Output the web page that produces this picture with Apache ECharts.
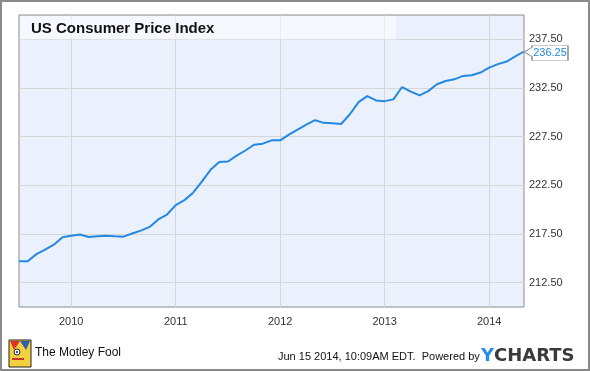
<!DOCTYPE html>
<html><head><meta charset="utf-8">
<script src="https://cdn.jsdelivr.net/npm/echarts@6/dist/echarts.min.js"></script>
<style>html,body{margin:0;padding:0;background:#fff}#c{width:590px;height:371px}</style>
</head><body><div id="c"></div>
<script>
const chartTitle = 'US Consumer Price Index';
const categories = [
  '2009-06','2009-07','2009-08','2009-09','2009-10','2009-11','2009-12',
  '2010-01','2010-02','2010-03','2010-04','2010-05','2010-06','2010-07','2010-08','2010-09','2010-10','2010-11','2010-12',
  '2011-01','2011-02','2011-03','2011-04','2011-05','2011-06','2011-07','2011-08','2011-09','2011-10','2011-11','2011-12',
  '2012-01','2012-02','2012-03','2012-04','2012-05','2012-06','2012-07','2012-08','2012-09','2012-10','2012-11','2012-12',
  '2013-01','2013-02','2013-03','2013-04','2013-05','2013-06','2013-07','2013-08','2013-09','2013-10','2013-11','2013-12',
  '2014-01','2014-02','2014-03','2014-04'
];
const cpiValues = [
  214.71, 214.70, 215.43, 215.89, 216.40, 217.16, 217.33,
  217.44, 217.19, 217.26, 217.33, 217.26, 217.23, 217.55, 217.85, 218.23, 219.00, 219.50, 220.47,
  220.98, 221.74, 222.88, 224.09, 224.90, 224.95, 225.55, 226.08, 226.67, 226.78, 227.12, 227.12,
  227.71, 228.22, 228.74, 229.19, 228.92, 228.88, 228.80, 229.80, 231.05, 231.67, 231.22, 231.15,
  231.33, 232.60, 232.12, 231.74, 232.18, 232.88, 233.22, 233.39, 233.74, 233.81, 234.09, 234.60,
  234.95, 235.22, 235.74, 236.25
];
const xTickCats = ['2009-12','2010-12','2011-12','2012-12','2013-12'];
const xTickLabels = ['2010','2011','2012','2013','2014'];
const yTicks = [212.5, 217.5, 222.5, 227.5, 232.5, 237.5];
const footerDate = 'Jun 15 2014, 10:09AM EDT.  Powered by';
const brandLeft = 'The Motley Fool';
const brandRight = ['Y', 'CHARTS'];

const FONT = '"Liberation Sans", Arial, sans-serif';
const LINE_COLOR = '#2388e4';
const GRID_COLOR = '#d6d6d6';
const chart = echarts.init(document.getElementById('c'), null, {renderer: 'canvas'});
const last = cpiValues.length - 1;
const isYTick = v => yTicks.some(t => Math.abs(t - v) < 1e-6);

chart.setOption({
  animation: false,
  backgroundColor: '#fff',
  grid: {left: 19, right: 66, top: 15, bottom: 64, show: true,
         backgroundColor: '#eaf1fc', borderColor: '#8c8c8c', borderWidth: 1},
  xAxis: {
    type: 'category', data: categories, boundaryGap: false,
    axisLine: {show: false}, axisTick: {show: false},
    axisLabel: {
      interval: (i, v) => xTickCats.includes(v),
      formatter: v => { const k = xTickCats.indexOf(v); return k >= 0 ? xTickLabels[k] : ''; },
      color: '#333', fontSize: 11, fontFamily: FONT, margin: 9
    },
    splitLine: {show: true, interval: (i, v) => xTickCats.includes(v),
                lineStyle: {color: GRID_COLOR, width: 1}}
  },
  yAxis: {
    type: 'value', position: 'right', min: 210, max: 240, interval: 2.5,
    axisLine: {show: false}, axisTick: {show: false},
    splitLine: {show: true, lineStyle: {color: ['rgba(0,0,0,0)', GRID_COLOR], width: 1}},
    axisLabel: {
      formatter: v => isYTick(v) ? v.toFixed(2) : '',
      color: '#333', fontSize: 11, fontFamily: FONT, margin: 5
    }
  },
  series: [
    {
      type: 'line', data: cpiValues, showSymbol: false, z: 3, silent: true,
      lineStyle: {color: LINE_COLOR, width: 2}, itemStyle: {color: LINE_COLOR},
      markPoint: {
        silent: true,
        symbol: 'path://M0,6.5 L8,2 L8,0 L44,0 L44,15 L8,15 L8,11 Z',
        symbolSize: [44, 15], symbolOffset: [22, 1.5],
        itemStyle: {color: '#fff', borderColor: '#9a9a9a', borderWidth: 1},
        label: {show: true, position: 'inside', offset: [4, 0], color: LINE_COLOR,
                fontSize: 11, fontFamily: FONT, formatter: p => p.value.toFixed(2)},
        data: [{coord: [categories[last], cpiValues[last]], value: cpiValues[last]}]
      }
    }
  ],
  graphic: [
    {type: 'rect', z: 100, silent: true, shape: {x: 1, y: 1, width: 588, height: 369},
     style: {fill: 'none', stroke: '#8a8a8a', lineWidth: 2}},
    {type: 'rect', z: 5, silent: true, shape: {x: 20, y: 16, width: 376, height: 23.5},
     style: {fill: 'rgba(255,255,255,0.5)'}},
    {type: 'text', z: 6, silent: true, x: 31, y: 29,
     style: {text: chartTitle, font: 'bold 15px ' + FONT, fill: '#111', verticalAlign: 'middle'}},
    {type: 'group', z: 6, silent: true, children: [
      {type: 'rect', shape: {x: 9, y: 340, width: 22, height: 27}, style: {fill: '#f4d03f', stroke: '#222', lineWidth: 1}},
      {type: 'polygon', shape: {points: [[10, 341], [20, 341], [14, 350]]}, style: {fill: '#d9342b'}},
      {type: 'polygon', shape: {points: [[20, 341], [30, 341], [26, 350]]}, style: {fill: '#2f5fb3'}},
      {type: 'circle', shape: {cx: 17, cy: 352, r: 3}, style: {fill: '#fff', stroke: '#222', lineWidth: 1}},
      {type: 'circle', shape: {cx: 17, cy: 352, r: 1.2}, style: {fill: '#2f5fb3'}},
      {type: 'rect', shape: {x: 12, y: 358, width: 12, height: 2}, style: {fill: '#c0392b'}}
    ]},
    {type: 'text', z: 6, silent: true, x: 35, y: 353,
     style: {text: brandLeft, font: '12px ' + FONT, fill: '#111', verticalAlign: 'middle'}},
    {type: 'text', z: 6, silent: true, x: 278, y: 357,
     style: {text: footerDate, font: '11px ' + FONT, fill: '#111', verticalAlign: 'middle'}},
    {type: 'text', z: 6, silent: true, x: 481, y: 356,
     style: {text: '{y|' + brandRight[0] + '}{c|' + brandRight[1] + '}', verticalAlign: 'middle',
       rich: {y: {font: 'bold 18px "DejaVu Sans", sans-serif', fill: '#2b8ce6', color: '#2b8ce6'},
              c: {font: 'bold 18px "DejaVu Sans", sans-serif', fill: '#3a3a3a', color: '#3a3a3a'}}}}
  ]
});
</script>
</body></html>
